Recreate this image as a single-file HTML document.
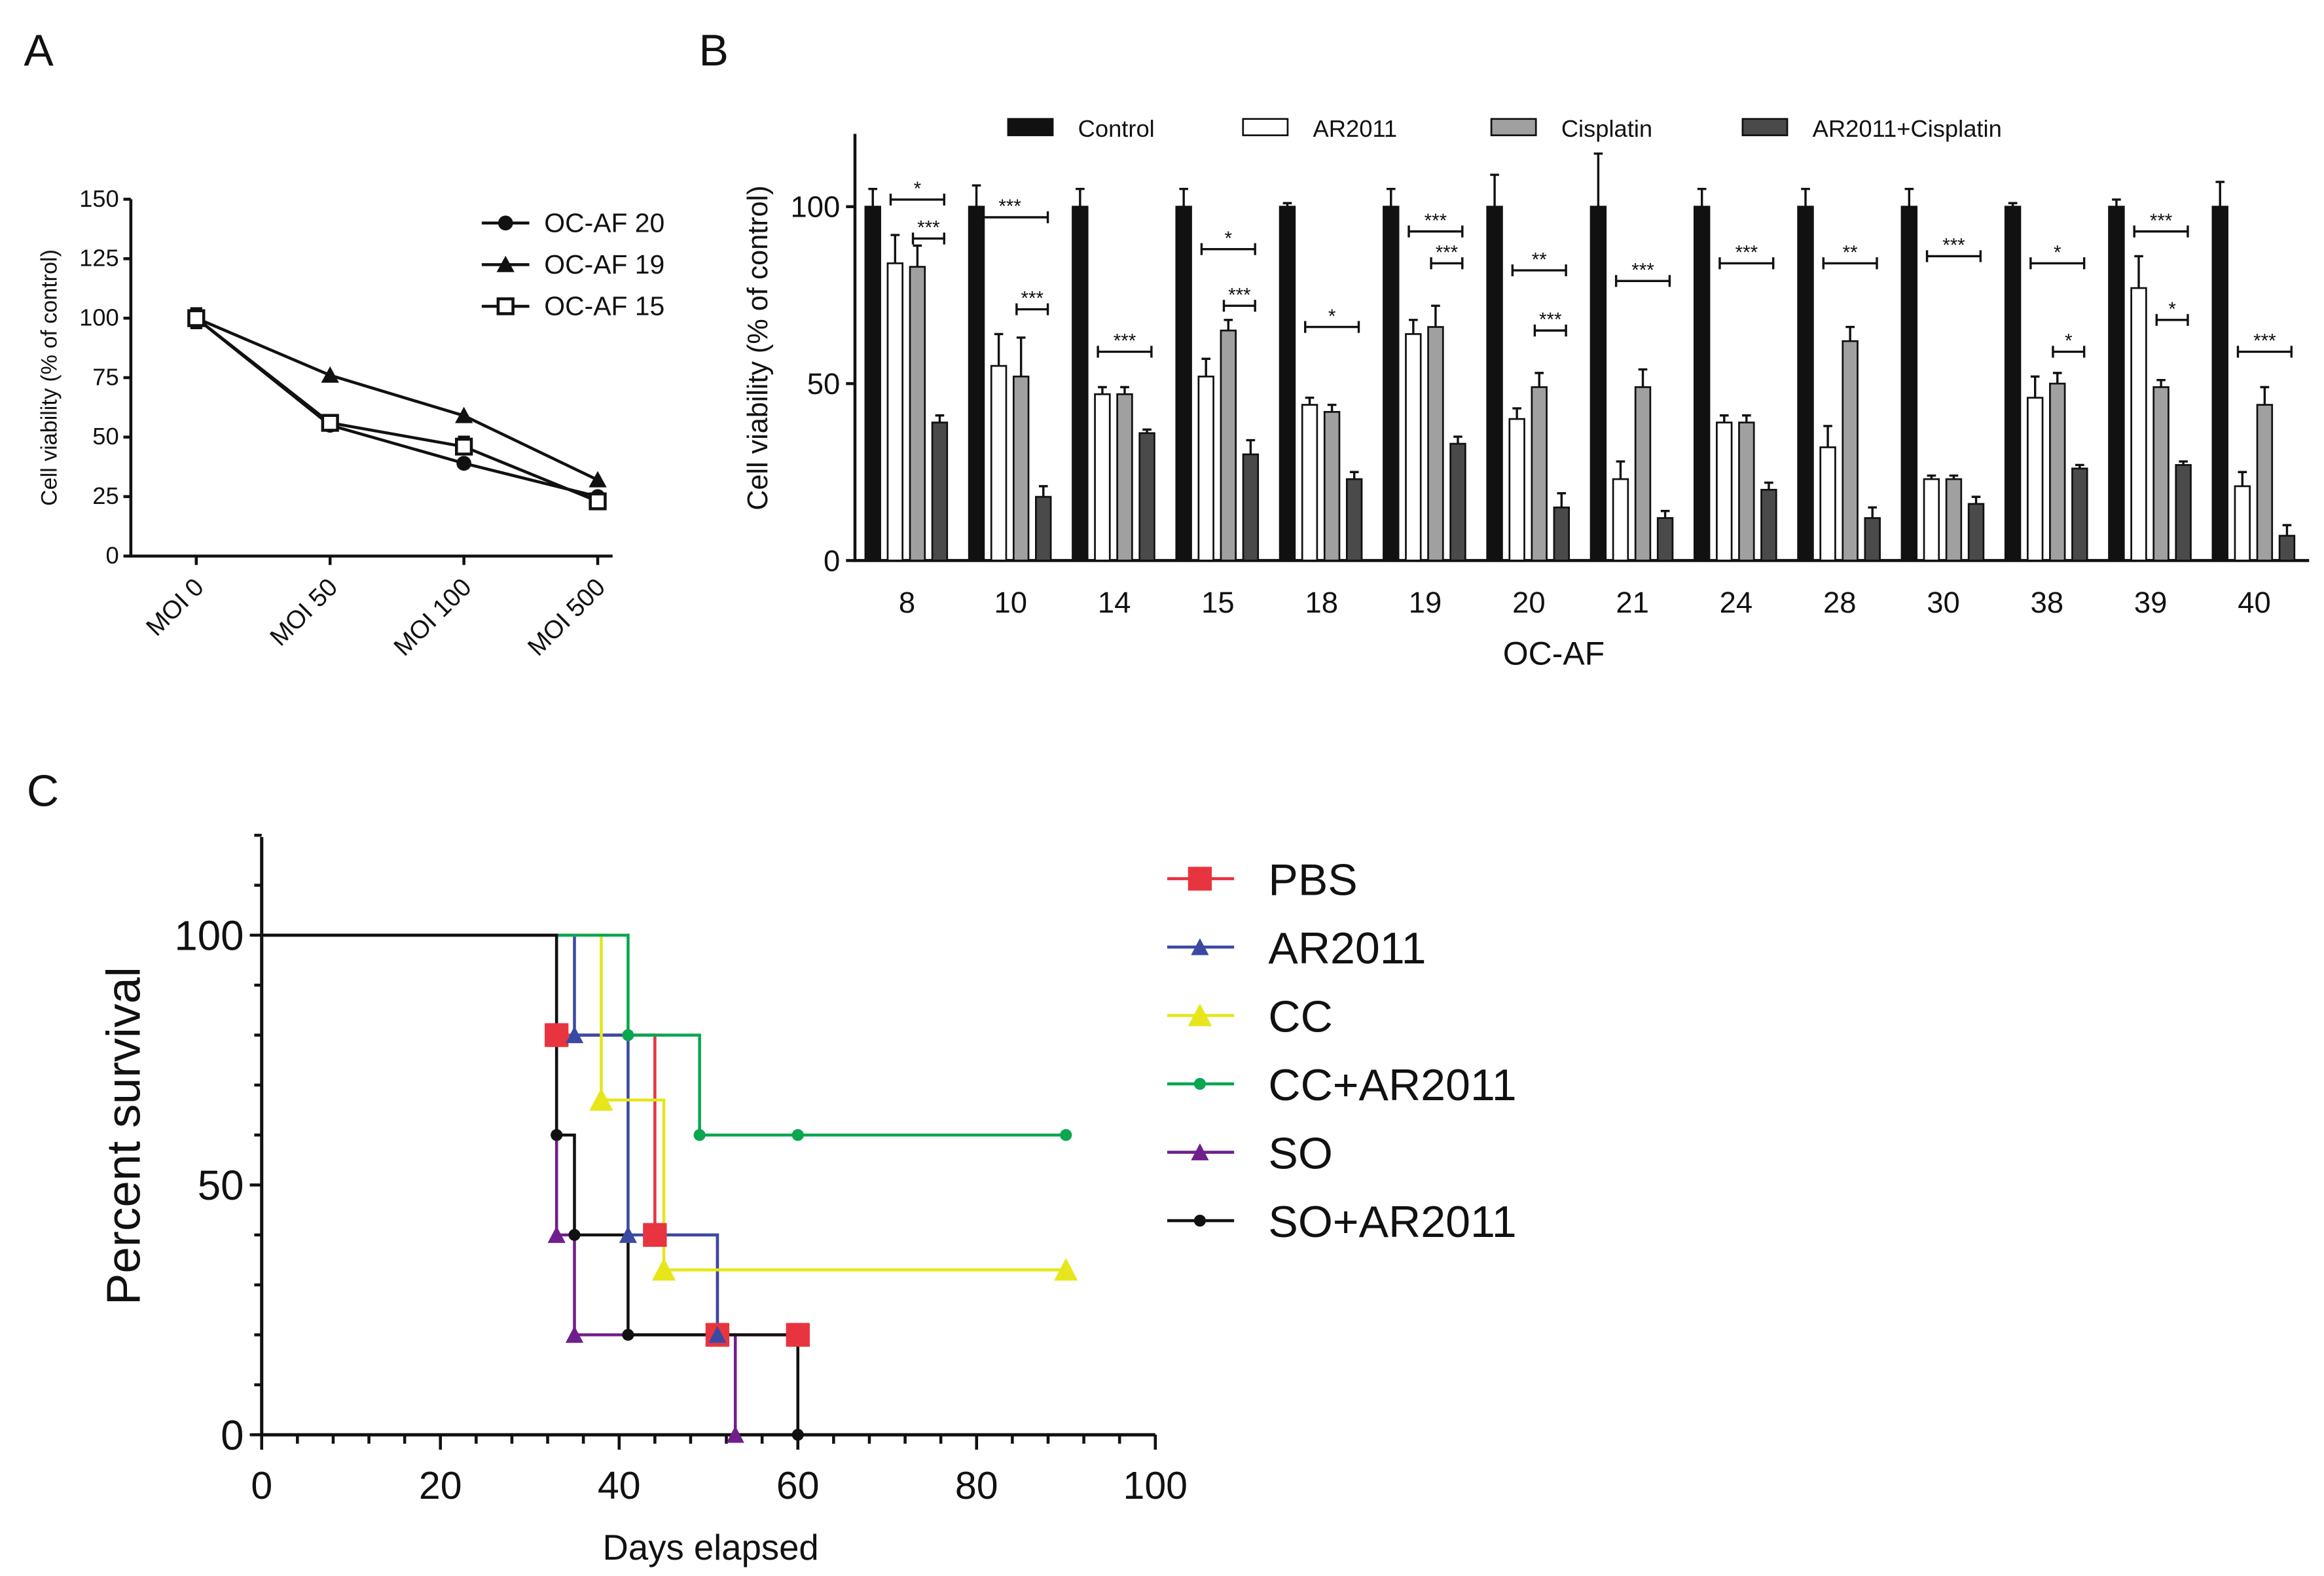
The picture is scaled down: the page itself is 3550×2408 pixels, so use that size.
<!DOCTYPE html>
<html><head><meta charset="utf-8"><style>
html,body{margin:0;padding:0;background:#fff}
svg{display:block}
text{font-family:"Liberation Sans",Arial,sans-serif;fill:#111}
</style></head><body>
<svg id="fig" width="3550" height="2408" viewBox="0 0 1563 1060" preserveAspectRatio="none" xmlns="http://www.w3.org/2000/svg">
<rect width="1563" height="1060" fill="#fff"/>
<text x="16" y="44" font-size="30">A</text>
<text x="470" y="44" font-size="30">B</text>
<text x="18" y="542" font-size="30">C</text>
<g id="pa"></g>
<g id="pb"></g>
<g id="pc"></g>
</svg>
<script>
// ---------- Panel A data ----------
const aCats = ["MOI 0","MOI 50","MOI 100","MOI 500"];
const aTicks = [0,25,50,75,100,125,150];
const aSeries20 = [100,55,39,25];
const aSeries19 = [100,76,59,32];
const aSeries15 = [100,56,46,23];
const aNames = ["OC-AF 20","OC-AF 19","OC-AF 15"];

// ---------- Panel B data ----------
const bCats = ["8","10","14","15","18","19","20","21","24","28","30","38","39","40"];
const bControl = [100,100,100,100,100,100,100,100,100,100,100,100,100,100];
const bControlErr = [5,6,5,5,1,5,9,15,5,5,5,1,2,7];
const bAR = [84,55,47,52,44,64,40,23,39,32,23,46,77,21];
const bARErr = [8,9,2,5,2,4,3,5,2,6,1,6,9,4];
const bCis = [83,52,47,65,42,66,49,49,39,62,23,50,49,44];
const bCisErr = [6,11,2,3,2,6,4,5,2,4,1,3,2,5];
const bCombo = [39,18,36,30,23,33,15,12,20,12,16,26,27,7];
const bComboErr = [2,3,1,4,2,2,4,2,2,3,2,1,1,3];
const bTicks = [0,50,100];
const bSeriesNames = ["Control","AR2011","Cisplatin","AR2011+Cisplatin"];
const bSig = [[0,1,3,102,"*"],[0,2,3,91,"***"],[1,0,3,97,"***"],[1,2,3,71,"***"],[2,1,3,59,"***"],
[3,1,3,88,"*"],[3,2,3,72,"***"],[4,1,3,66,"*"],[5,1,3,93,"***"],[5,2,3,84,"***"],[6,1,3,82,"**"],[6,2,3,65,"***"],
[7,1,3,79,"***"],[8,1,3,84,"***"],[9,1,3,84,"**"],[10,1,3,86,"***"],[11,1,3,84,"*"],[11,2,3,59,"*"],
[12,1,3,93,"***"],[12,2,3,68,"*"],[13,1,3,59,"***"]];

// ---------- Panel C data ----------
const cNames = ["PBS","AR2011","CC","CC+AR2011","SO","SO+AR2011"];
const cColors = ["#e8343f","#3a4aa3","#e6e61a","#0aa650","#701e8c","#111111"];
const cMarkers = ["square","tri","tri","dot","tri","dot"];
const cTimes = [[0,33,44,51,60],[0,35,41,51],[0,38,45,90],[0,41,49,60,90],[0,33,35,53],[0,33,35,41,60]];
const cSurv = [[100,80,40,20,20],[100,80,40,20],[100,67,33,33],[100,80,60,60,60],[100,40,20,0],[100,60,40,20,0]];
const cMarkFrom = [1,1,1,1,1,1];
const cXTicks = [0,20,40,60,80,100];
const cYTicks = [0,50,100];

const NS="http://www.w3.org/2000/svg";
function mk(parent,tag,attrs,txt){const e=document.createElementNS(NS,tag);for(const k in attrs)e.setAttribute(k,attrs[k]);if(txt!==undefined)e.textContent=txt;parent.appendChild(e);return e;}

// ===== Panel A =====
(function(){
const g=document.getElementById('pa');
const X0=88,Y0=374,yS=1.6;
const y=v=>Y0-v*yS;
const x=i=>132+i*90;
let ax=mk(g,'path',{d:`M${X0} 134 V${Y0} H412`,stroke:'#111','stroke-width':2,fill:'none'});

aTicks.forEach(t=>{mk(g,'line',{x1:X0-5,x2:X0,y1:y(t),y2:y(t),stroke:'#111','stroke-width':2});
 let tl=mk(g,'text',{x:X0-8,y:y(t)+5,'font-size':16,'text-anchor':'end'},t);
 });
aCats.forEach((c,i)=>{mk(g,'line',{x1:x(i),x2:x(i),y1:Y0,y2:Y0+6,stroke:'#111','stroke-width':2});
 let tl=mk(g,'text',{x:x(i)+6,y:Y0+22,'font-size':17,'text-anchor':'end',transform:`rotate(-45 ${x(i)+6} ${Y0+22})`},c);
 });
let yt=mk(g,'text',{x:0,y:0,'font-size':15,'text-anchor':'middle',transform:`translate(38 254) rotate(-90)`},'Cell viability (% of control)');

const series=[aSeries20,aSeries19,aSeries15];
function marker(k,cx,cy){
 if(k==0)return mk(g,'circle',{cx,cy,r:5,fill:'#111'});
 if(k==1)return mk(g,'path',{d:`M${cx} ${cy-6}L${cx+6} ${cy+5}L${cx-6} ${cy+5}Z`,fill:'#111'});
 return mk(g,'rect',{x:cx-5,y:cy-5,width:10,height:10,fill:'#fff',stroke:'#111','stroke-width':2});
}
series.forEach((s,k)=>{
 let l=mk(g,'polyline',{points:s.map((v,i)=>`${x(i)},${y(v)}`).join(' '),fill:'none',stroke:'#111','stroke-width':2});
 
});
mk(g,'path',{d:`M${x(0)-4} ${y(104)}H${x(0)+4}M${x(0)} ${y(104)}V${y(96)}M${x(0)-4} ${y(96)}H${x(0)+4}M${x(2)-4} ${y(50)}H${x(2)+4}M${x(2)} ${y(50)}V${y(46)}`,stroke:'#111','stroke-width':2});
series.forEach((s,k)=>s.forEach((v,i)=>{let m=marker(k,x(i),y(v));}));
aNames.forEach((n,k)=>{const ly=150+k*28;
 mk(g,'line',{x1:324,x2:356,y1:ly,y2:ly,stroke:'#111','stroke-width':2});marker(k,340,ly);
 let t=mk(g,'text',{x:366,y:ly+6,'font-size':18},n);});
})();

// ===== Panel B =====
(function(){
const g=document.getElementById('pb');
const X0=575,Y0=377,yS=2.38;const y=v=>Y0-v*yS;
const cx=i=>610+i*69.7;const offs=[-23,-8,7,22];const bw=10;
const fills=['#111','#fff','#a0a0a0','#4a4a4a'];
const data=[bControl,bAR,bCis,bCombo],errs=[bControlErr,bARErr,bCisErr,bComboErr];
let ax=mk(g,'path',{d:`M${X0} 90 V${Y0} H1553`,stroke:'#111','stroke-width':2,fill:'none'});

bTicks.forEach(t=>{mk(g,'line',{x1:X0-6,x2:X0,y1:y(t),y2:y(t),stroke:'#111','stroke-width':2});
 let tl=mk(g,'text',{x:X0-10,y:y(t)+7,'font-size':20,'text-anchor':'end'},t);});
let yt=mk(g,'text',{x:0,y:0,'font-size':19,'text-anchor':'middle',transform:`translate(516 234) rotate(-90)`},'Cell viability (% of control)');

let xt=mk(g,'text',{x:1045,y:447,'font-size':22,'text-anchor':'middle'},'OC-AF');
bCats.forEach((c,i)=>{
 let tl=mk(g,'text',{x:cx(i),y:412,'font-size':20,'text-anchor':'middle'},c);
 data.forEach((d,s)=>{const bx=cx(i)+offs[s]-bw/2,top=y(d[i]),et=y(d[i]+errs[s][i]);
  mk(g,'path',{d:`M${cx(i)+offs[s]} ${top}V${et}M${cx(i)+offs[s]-3} ${et}H${cx(i)+offs[s]+3}`,stroke:'#111','stroke-width':1.5});
  let r=mk(g,'rect',{x:bx,y:top,width:bw,height:Y0-top,fill:fills[s],stroke:'#111','stroke-width':1.2});
  });
});
bSig.forEach(([gi,a,b,lv,st])=>{const x1=cx(gi)+offs[a]-3,x2=cx(gi)+offs[b]+3,yy=y(lv);
 mk(g,'path',{d:`M${x1} ${yy-4}V${yy+4}M${x1} ${yy}H${x2}M${x2} ${yy-4}V${yy+4}`,stroke:'#111','stroke-width':1.5,fill:'none'});
 let t=mk(g,'text',{x:(x1+x2)/2,y:yy-3,'font-size':13,'text-anchor':'middle'},st);});
const lx=[678,836,1003,1172];
bSeriesNames.forEach((n,s)=>{mk(g,'rect',{x:lx[s],y:80,width:30,height:11,fill:fills[s],stroke:'#111','stroke-width':1.2});
 let t=mk(g,'text',{x:lx[s]+47,y:92,'font-size':16},n);});
})();

// ===== Panel C =====
(function(){
const g=document.getElementById('pc');
const X0=176,Y0=965,xS=6.01,yS=3.36;const x=d=>X0+d*xS,y=v=>Y0-v*yS;
let ax=mk(g,'path',{d:`M${X0} 563 V${Y0} H${x(100)}`,stroke:'#111','stroke-width':2.2,fill:'none'});

for(let v=0;v<=120;v+=10)mk(g,'line',{x1:X0-(v%50?5:8),x2:X0,y1:y(v),y2:y(v),stroke:'#111','stroke-width':2});
for(let d=0;d<=100;d+=4)mk(g,'line',{x1:x(d),x2:x(d),y1:Y0,y2:Y0+(d%20?6:10),stroke:'#111','stroke-width':2});
for(let d=0;d<=100;d+=20)mk(g,'line',{x1:x(d),x2:x(d),y1:Y0,y2:Y0+10,stroke:'#111','stroke-width':2});
cYTicks.forEach(t=>{let tl=mk(g,'text',{x:X0-12,y:y(t)+10,'font-size':28,'text-anchor':'end'},t);});
cXTicks.forEach(t=>{let tl=mk(g,'text',{x:x(t),y:Y0+43,'font-size':26,'text-anchor':'middle'},t);});
let yt=mk(g,'text',{x:0,y:0,'font-size':32,'text-anchor':'middle',transform:`translate(94 764) rotate(-90)`},'Percent survival');
let xt=mk(g,'text',{x:478,y:1049,'font-size':24,'text-anchor':'middle'},'Days elapsed');
function marker(k,px,py,big){const c=cColors[k];
 if(cMarkers[k]=='square')return mk(g,'rect',{x:px-8,y:py-8,width:16,height:16,fill:c});
 if(cMarkers[k]=='dot')return mk(g,'circle',{cx:px,cy:py,r:4,fill:c});
 const s=big?8:6;return mk(g,'path',{d:`M${px} ${py-s}L${px+s} ${py+s*0.9}L${px-s} ${py+s*0.9}Z`,fill:c});}
cTimes.forEach((ts,k)=>{const sv=cSurv[k];let d=`M${x(ts[0])} ${y(sv[0])}`;
 for(let i=1;i<ts.length;i++){d+=`H${x(ts[i])}V${y(sv[i])}`;}
 let p=mk(g,'path',{d,fill:'none',stroke:cColors[k],'stroke-width':2});});
cTimes.forEach((ts,k)=>{for(let i=cMarkFrom[k];i<ts.length;i++){let m=marker(k,x(ts[i]),y(cSurv[k][i]),k==2);}});
cNames.forEach((n,k)=>{const ly=591+k*46;mk(g,'line',{x1:785,x2:830,y1:ly,y2:ly,stroke:cColors[k],'stroke-width':2});marker(k,807,ly,k==2);
 let t=mk(g,'text',{x:853,y:ly+11,'font-size':30},n);});
})();
</script>
</body></html>
